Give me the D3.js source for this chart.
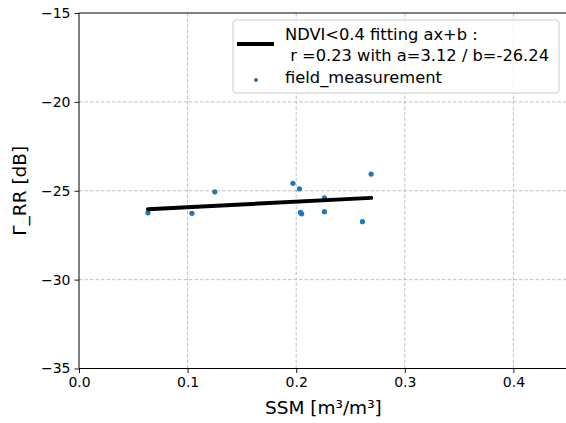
<!DOCTYPE html>
<html>
<head>
<meta charset="utf-8">
<script src="https://cdn.jsdelivr.net/npm/d3@7"></script>
<style>
  html, body { margin: 0; padding: 0; background: #fff; }
  svg { display: block; font-family: "DejaVu Sans", sans-serif; }
</style>
</head>
<body>
<svg id="chart" width="566" height="423"></svg>
<script>
// ---- data ----
const ssm = [0.0635, 0.104, 0.125, 0.197, 0.203, 0.204, 0.205, 0.226, 0.226, 0.261, 0.269];
const gammaRR = [-26.24, -26.27, -25.06, -24.58, -24.89, -26.22, -26.30, -25.40, -26.18, -26.74, -24.06];
const fitA = 3.12;
const fitB = -26.24;
const fitR = 0.23;
const xTicks = [0.0, 0.1, 0.2, 0.3, 0.4];
const yTicks = [-35, -30, -25, -20, -15];
const legendLabels = ["NDVI<0.4 fitting ax+b :", " r =0.23 with a=3.12 / b=-26.24", "field_measurement"];

// ---- layout ----
const svg = d3.select("#chart");
const mLeft = 79, mTop = 13, mBottom = 368.5;
const x = d3.scaleLinear().domain([0, 0.45]).range([mLeft, mLeft + 1086 * 0.45]);
const y = d3.scaleLinear().domain([-35, -15]).range([mBottom, mTop]);
const fmtY = d => d3.format("d")(d).replace("-", "\u2212");

// grid
const grid = svg.append("g");
grid.selectAll(".gx").data(xTicks.slice(1)).enter().append("line")
  .attr("x1", d => x(d)).attr("x2", d => x(d))
  .attr("y1", mTop).attr("y2", mBottom)
  .attr("stroke", "#b0b0b0").attr("stroke-width", 0.8).attr("stroke-dasharray", "3.5,2");
grid.selectAll(".gy").data(yTicks.slice(1, -1)).enter().append("line")
  .attr("x1", mLeft).attr("x2", 566)
  .attr("y1", d => y(d)).attr("y2", d => y(d))
  .attr("stroke", "#b0b0b0").attr("stroke-width", 0.8).attr("stroke-dasharray", "3.5,2");

// points
svg.append("g").selectAll("circle").data(ssm).enter().append("circle")
  .attr("cx", d => x(d)).attr("cy", (d, i) => y(gammaRR[i]))
  .attr("r", 2.6).attr("fill", "#1f77b4");

// fit line
const xmin = d3.min(ssm), xmax = d3.max(ssm);
svg.append("path")
  .datum([xmin, xmax])
  .attr("d", d3.line().x(d => x(d)).y(d => y(fitA * d + fitB)))
  .attr("stroke", "#000").attr("stroke-width", 4).attr("fill", "none")
  .attr("stroke-linecap", "round");

// axes
const xAxis = d3.axisBottom(x).tickValues(xTicks).tickFormat(d3.format(".1f")).tickSize(4.5).tickPadding(4);
const yAxis = d3.axisLeft(y).tickValues(yTicks).tickFormat(fmtY).tickSize(4.5).tickPadding(4);
const gx = svg.append("g").attr("transform", `translate(0,${mBottom})`).call(xAxis);
const gy = svg.append("g").attr("transform", `translate(${mLeft},0)`).call(yAxis);
[gx, gy].forEach(g => {
  g.select(".domain").remove();
  g.selectAll("text").attr("font-size", 14).attr("font-family", "DejaVu Sans").attr("fill", "#000");
  g.selectAll("line").attr("stroke", "#000").attr("stroke-width", 0.9);
});
// spines
svg.append("line").attr("x1", mLeft).attr("x2", mLeft).attr("y1", mTop).attr("y2", mBottom).attr("stroke", "#000").attr("stroke-width", 1);
svg.append("line").attr("x1", mLeft).attr("x2", 566).attr("y1", mBottom).attr("y2", mBottom).attr("stroke", "#000").attr("stroke-width", 1);
svg.append("line").attr("x1", mLeft).attr("x2", 566).attr("y1", mTop).attr("y2", mTop).attr("stroke", "#000").attr("stroke-width", 1);

// axis labels
svg.append("text").attr("x", (mLeft + x(0.45)) / 2).attr("y", 414)
  .attr("text-anchor", "middle").attr("font-size", 18.5).text("SSM [m\u00b3/m\u00b3]");
svg.append("text").attr("transform", `translate(26,${(mTop + mBottom) / 2}) rotate(-90)`)
  .attr("text-anchor", "middle").attr("font-size", 18.5).text("\u0393_RR [dB]");

// legend
const lg = svg.append("g");
lg.append("rect").attr("x", 233).attr("y", 20).attr("width", 326).attr("height", 73)
  .attr("rx", 3).attr("fill", "#fff").attr("fill-opacity", 0.8)
  .attr("stroke", "#cccccc").attr("stroke-width", 1);
lg.append("line").attr("x1", 237).attr("x2", 274).attr("y1", 44).attr("y2", 44)
  .attr("stroke", "#000").attr("stroke-width", 4);
lg.append("circle").attr("cx", 256).attr("cy", 80).attr("r", 2).attr("fill", "#1f77b4");
const lyPos = [40, 61, 83];
lg.selectAll("text.lt").data(legendLabels).enter().append("text")
  .attr("x", 285).attr("y", (d, i) => lyPos[i])
  .attr("font-size", 16.3).attr("fill", "#000")
  .style("white-space", "pre").text(d => d);
</script>
</body>
</html>
